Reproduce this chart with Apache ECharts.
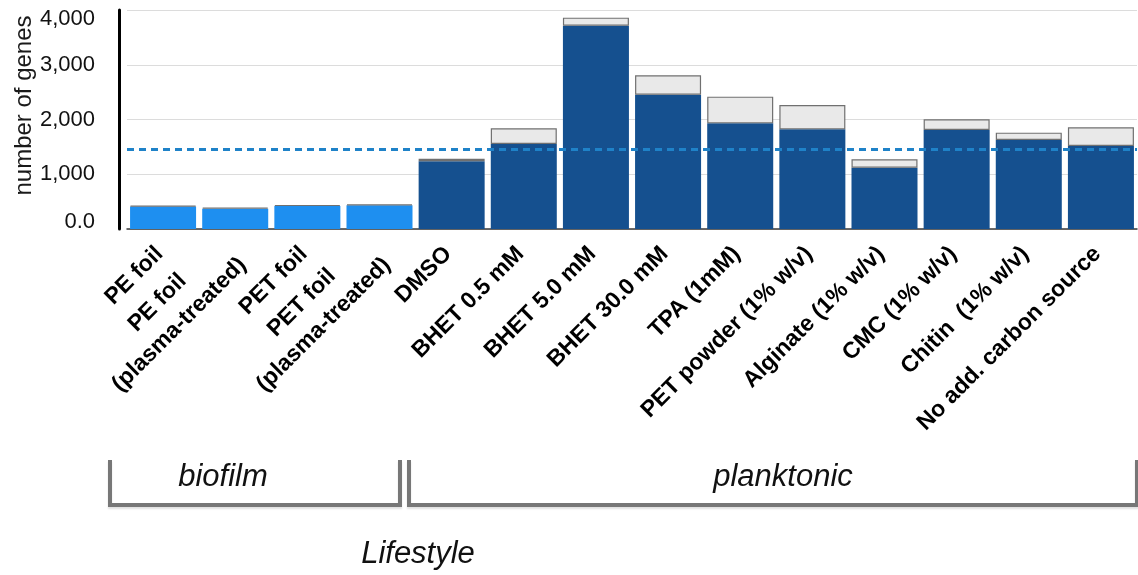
<!DOCTYPE html>
<html>
<head>
<meta charset="utf-8">
<title>number of genes by growth condition</title>
<script src="https://cdn.jsdelivr.net/npm/echarts@6/dist/echarts.min.js"></script>
<style>
  html, body { margin: 0; padding: 0; background: #ffffff; }
  #chart { width: 1138px; height: 575px; }
</style>
</head>
<body>
<div id="chart"></div>
<script>
// Growth conditions (x categories)
const categories = [
  'PE foil',
  'PE foil\n(plasma-treated)',
  'PET foil',
  'PET foil\n(plasma-treated)',
  'DMSO',
  'BHET 0.5 mM',
  'BHET 5.0 mM',
  'BHET 30.0 mM',
  'TPA (1mM)',
  'PET powder (1% w/v)',
  'Alginate (1% w/v)',
  'CMC (1% w/v)',
  'Chitin  (1% w/v)',
  'No add. carbon source'
];
// Lifestyle of each condition
const lifestyle = [
  'biofilm', 'biofilm', 'biofilm', 'biofilm',
  'planktonic', 'planktonic', 'planktonic', 'planktonic', 'planktonic',
  'planktonic', 'planktonic', 'planktonic', 'planktonic', 'planktonic'
];
// Lower (coloured) segment of each bar
const coloredGenes = [410, 372, 420, 432, 1237, 1553, 3714, 2454, 1930, 1820, 1120, 1808, 1626, 1516];
// Full bar height (coloured + grey segment)
const totalGenes = [425, 390, 438, 450, 1284, 1839, 3860, 2807, 2417, 2265, 1272, 2003, 1760, 1857];
// Dashed reference level
const referenceLevel = 1460;
// Y axis ticks
const yTicks = [0, 1000, 2000, 3000, 4000];

const lifestyleColor = { biofilm: '#1e8ff0', planktonic: '#15508f' };
const FONT = '"Liberation Sans", Arial, Helvetica, sans-serif';

const chart = echarts.init(document.getElementById('chart'), null, { renderer: 'canvas' });

const greyPart = totalGenes.map((t, i) => t - coloredGenes[i]);

function yLabel(v) {
  if (v === yTicks[0]) return '{lo|0.0}';
  const txt = v.toLocaleString('en-US');
  if (v === yTicks[yTicks.length - 1]) return '{hi|' + txt + '}';
  return '{n|' + txt + '}';
}
const yLabelBase = { fontSize: 22, fontFamily: FONT, color: '#111111' };

const option = {
  animation: false,
  backgroundColor: '#ffffff',
  grid: { left: 127, right: 1, top: 10, bottom: 346, containLabel: false, outerBoundsMode: 'none' },
  xAxis: {
    type: 'category',
    data: categories,
    axisLine: { show: true, lineStyle: { color: '#3a3a3a', width: 1.5 } },
    axisTick: { show: false },
    splitLine: { show: false },
    axisLabel: {
      interval: 0,
      rotate: 45,
      margin: 8,
      padding: [14, 12, 0, 0],
      hideOverlap: false,
      formatter: v => v.split('\n').map(s => '{c|' + s + '}').join('\n'),
      rich: {
        c: {
          fontSize: 23, fontWeight: 'bold', fontFamily: FONT,
          color: '#000000', align: 'center', lineHeight: 31
        }
      }
    }
  },
  yAxis: {
    type: 'value',
    min: yTicks[0],
    max: yTicks[yTicks.length - 1],
    interval: 1000,
    offset: 8,
    name: 'number of genes',
    nameLocation: 'middle',
    nameGap: 83,
    nameRotate: 90,
    nameMoveOverlap: false,
    nameTextStyle: { fontSize: 24, fontFamily: FONT, color: '#1a1a1a', padding: [0, 0, 0, 28] },
    axisLine: { show: true, lineStyle: { color: '#000000', width: 3 } },
    axisTick: { show: false },
    splitLine: { show: true, lineStyle: { color: '#dcdcdc', width: 1 } },
    axisLabel: {
      margin: 24,
      showMinLabel: true,
      showMaxLabel: true,
      formatter: yLabel,
      rich: {
        n: Object.assign({}, yLabelBase),
        hi: Object.assign({ padding: [17, 0, 0, 0] }, yLabelBase),
        lo: Object.assign({ padding: [0, 0, 15, 0] }, yLabelBase)
      }
    }
  },
  series: [
    {
      name: 'coloured',
      type: 'bar',
      stack: 'genes',
      barCategoryGap: '8.5%',
      data: coloredGenes.map((v, i) => ({
        value: v,
        itemStyle: { color: lifestyleColor[lifestyle[i]] }
      })),
      markLine: {
        silent: true,
        symbol: ['none', 'none'],
        label: { show: false },
        lineStyle: { color: '#1f82c8', type: [7, 5], width: 3 },
        data: [{ yAxis: referenceLevel }]
      }
    },
    {
      name: 'grey',
      type: 'bar',
      stack: 'genes',
      barCategoryGap: '8.5%',
      itemStyle: { color: '#e9e9e9', borderColor: '#707070', borderWidth: 1.2 },
      data: greyPart
    }
  ],
  graphic: [
    // biofilm bracket
    {
      type: 'polyline',
      shape: { points: [[110, 460], [110, 505], [400, 505], [400, 460]] },
      style: { stroke: '#777777', lineWidth: 4, fill: null,
               shadowColor: 'rgba(0,0,0,0.12)', shadowBlur: 2, shadowOffsetY: 2 }
    },
    // planktonic bracket
    {
      type: 'polyline',
      shape: { points: [[409, 460], [409, 505], [1137, 505], [1137, 460]] },
      style: { stroke: '#777777', lineWidth: 4, fill: null,
               shadowColor: 'rgba(0,0,0,0.12)', shadowBlur: 2, shadowOffsetY: 2 }
    },
    {
      type: 'text',
      style: { text: 'biofilm', x: 223, y: 477, textAlign: 'center', textVerticalAlign: 'middle',
               font: 'italic 31px ' + FONT, fill: '#111111' }
    },
    {
      type: 'text',
      style: { text: 'planktonic', x: 783, y: 477, textAlign: 'center', textVerticalAlign: 'middle',
               font: 'italic 31px ' + FONT, fill: '#111111' }
    },
    {
      type: 'text',
      style: { text: 'Lifestyle', x: 418, y: 554, textAlign: 'center', textVerticalAlign: 'middle',
               font: 'italic 31px ' + FONT, fill: '#111111' }
    }
  ]
};

chart.setOption(option);
</script>
</body>
</html>
